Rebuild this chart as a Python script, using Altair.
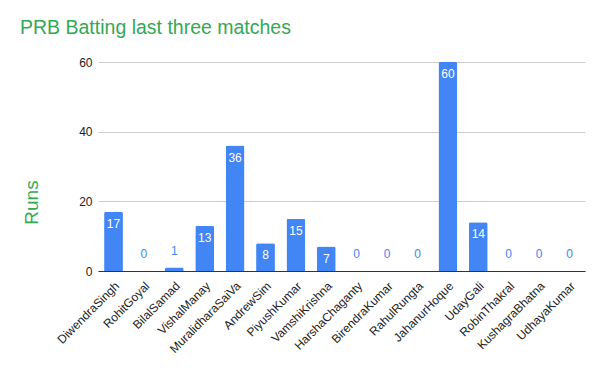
import altair as alt
import pandas as pd

players = ["DiwendraSingh", "RohitGoyal", "BilalSamad", "VishalManay", "MuralidharaSaiVa",
           "AndrewSim", "PiyushKumar", "VamshiKrishna", "HarshaChaganty", "BirendraKumar",
           "RahulRungta", "JahanurHoque", "UdayGali", "RobinThakral", "KushagraBhatna", "UdhayaKumar"]
runs = [17, 0, 1, 13, 36, 8, 15, 7, 0, 0, 0, 60, 14, 0, 0, 0]

df = pd.DataFrame({"player": players, "runs": runs})

FONT = "Liberation Sans"
BLUE = "#4285F4"
GREEN = "#34A853"

x = alt.X("player:N", sort=players, title=None,
          scale=alt.Scale(paddingInner=0.38, paddingOuter=0.2),
          axis=alt.Axis(labelAngle=-45, labelAlign="right", labelBaseline="top",
                        labelFont=FONT, labelFontSize=12, labelColor="#222222",
                        ticks=False, domain=True, domainColor="#333333", labelPadding=9))
y = alt.Y("runs:Q", title="Runs",
          scale=alt.Scale(domain=[0, 60], nice=False),
          axis=alt.Axis(values=[0, 20, 40, 60], labelFont=FONT, labelFontSize=12,
                        labelColor="#222222", ticks=False, domain=False, gridColor="#cccccc",
                        labelPadding=6, titleFont=FONT, titleFontSize=19, titleColor=GREEN,
                        titleFontWeight="normal", titleAngle=-90, titleX=-67, titleY=140,
                        titleAlign="center", titleBaseline="middle"))

bars = alt.Chart(df).mark_bar(color=BLUE, cornerRadiusTopLeft=2, cornerRadiusTopRight=2).encode(x=x, y=y)

inside = alt.Chart(df).transform_filter("datum.runs >= 5").mark_text(
    font=FONT, fontSize=12, color="white", baseline="middle", dy=12
).encode(x=alt.X("player:N", sort=players), y="runs:Q", text="runs:Q")

outside = alt.Chart(df).transform_filter("datum.runs < 5").mark_text(
    font=FONT, fontSize=12, color=BLUE, baseline="middle", dy=-17
).encode(x=alt.X("player:N", sort=players), y="runs:Q", text="runs:Q")

chart = alt.layer(bars, inside, outside).properties(
    width=487, height=209,
    title=alt.TitleParams("PRB Batting last three matches", anchor="start", frame="group",
                          font=FONT, fontSize=19.5, fontWeight="normal", color=GREEN,
                          dx=-78, offset=18),
    autosize=alt.AutoSizeParams(type="none"),
    padding={"left": 90, "top": 54, "right": 5, "bottom": 90},
).configure_view(stroke=None)

chart.save("out.html", embed_options={"renderer": "svg", "actions": False})
